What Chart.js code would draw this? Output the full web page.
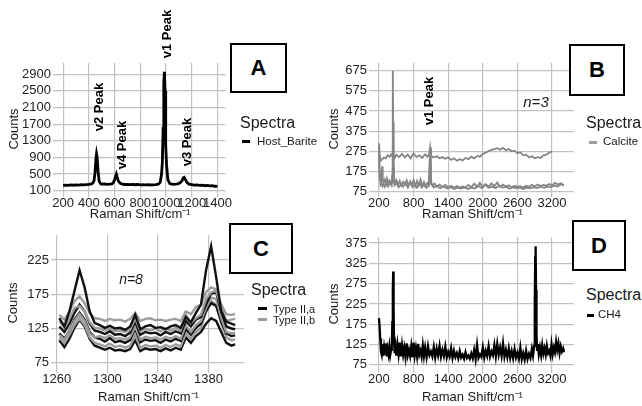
<!DOCTYPE html>
<html>
<head>
<meta charset="utf-8">
<script src="https://cdn.jsdelivr.net/npm/chart.js@4.4.1/dist/chart.umd.min.js"></script>
<style>
  body { margin: 0; background: #fff; }
  #wrap { position: relative; width: 642px; height: 406px; overflow: hidden; background: #fff;
          font-family: "Liberation Sans", Arial, sans-serif; color: #1a1a1a; }
  canvas { position: absolute; }
  .lbl { position: absolute; white-space: nowrap; line-height: 1; }
  .mid { transform: translate(-50%, -50%); }
  .left { transform: translateY(-50%); }
  .rot { transform: translate(-50%, -50%) rotate(-90deg); font-weight: bold; font-size: 13px; color: #000; }
  .leg { font-size: 16px; }
  .item { font-size: 11.5px; }
  .box { position: absolute; border: 2px solid #000; box-sizing: border-box; background: #fff;
         display: flex; align-items: center; justify-content: center; font-weight: bold; font-size: 22px; color: #000; }
  .key { position: absolute; height: 3px; }
</style>
</head>
<body>
<div id="wrap">
  <canvas id="chartA" width="232" height="222" style="left:0;top:0"></canvas>
  <canvas id="chartB" width="254" height="222" style="left:322px;top:0"></canvas>
  <canvas id="chartC" width="246" height="184" style="left:0;top:222px"></canvas>
  <canvas id="chartD" width="254" height="184" style="left:322px;top:222px"></canvas>
</div>
<script>
// ---- panel A: Host_Barite ----
const xA = [200,220,240,260,280,300,320,340,360,380,400,420,430,440,448,455,460,465,472,480,490,500,520,540,560,580,590,600,608,614,620,630,645,660,680,700,720,740,760,780,800,820,840,860,880,900,920,940,955,965,972,978,983,988,993,998,1005,1015,1030,1050,1070,1090,1110,1125,1135,1142,1150,1165,1180,1200,1220,1240,1260,1280,1300,1320,1340,1360,1380,1400];
const yA = [225,232,228,236,230,240,235,242,238,245,250,262,280,330,520,860,985,900,560,330,270,255,262,250,258,262,290,350,450,500,430,330,275,255,248,252,245,250,242,248,240,245,238,242,236,240,245,255,300,480,780,1600,2700,2960,2500,1200,700,360,270,250,255,265,290,340,410,420,370,290,255,245,235,240,228,232,222,226,215,220,205,200];
const xTicksA = [200,400,600,800,1000,1200,1400];
const yTicksA = [100,500,900,1300,1700,2100,2500,2900];

// ---- panel B: Calcite, n=3 ----
const xB1 = [200,215,235,260,290,320,350,380,410,430,440,450,470,500,550,600,650,700,750,800,850,900,950,1000,1040,1070,1086,1100,1130,1200,1250,1300,1350,1400,1450,1500,1550,1600,1650,1700,1750,1800,1850,1900,1950,2000,2050,2100,2150,2200,2250,2300,2350,2400,2450,2500,2550,2600,2650,2700,2750,2800,2850,2900,2950,3000,3050,3100,3150,3200];
const yB1 = [315,250,228,236,245,240,255,248,260,250,560,255,240,258,246,262,244,258,240,265,246,255,242,260,248,262,295,255,245,250,240,246,238,245,232,240,228,236,230,242,236,248,240,252,248,262,268,276,282,286,290,283,292,280,286,275,278,265,270,255,258,245,250,240,246,242,255,258,268,275];
const xB2 = [200,210,225,240,255,265,280,300,320,340,360,380,400,420,432,440,448,460,480,500,530,560,590,620,650,680,710,740,770,800,830,860,890,920,950,980,1010,1040,1070,1086,1100,1130,1160,1200,1250,1300,1350,1400,1450,1500,1550,1600,1650,1700,1750,1800,1850,1900,1950,2000,2050,2100,2150,2200,2250,2300,2350,2400,2450,2500,2550,2600,2650,2700,2750,2800,2850,2900,2950,3000,3050,3100,3150,3200,3250,3300,3350,3400];
const yB2 = [300,180,130,125,200,140,120,135,112,140,118,130,115,125,160,675,200,140,118,132,110,128,105,124,112,130,104,126,108,132,102,128,106,135,100,122,104,118,108,285,120,104,115,100,110,98,108,96,104,94,102,95,100,94,108,96,114,98,118,97,112,100,116,102,120,98,110,100,106,96,104,98,102,95,104,98,108,100,110,102,108,104,112,106,118,110,116,108];
const xB3 = [200,212,228,245,262,280,300,330,360,390,420,436,444,455,470,500,540,580,620,660,700,740,780,820,860,900,940,980,1020,1060,1086,1110,1150,1200,1260,1320,1380,1440,1500,1560,1620,1680,1740,1800,1860,1920,1980,2040,2100,2160,2220,2280,2340,2400,2460,2520,2580,2640,2700,2760,2820,2880,2940,3000,3060,3120,3180,3240,3300,3360,3400];
const yB3 = [270,150,108,118,102,112,98,115,100,120,105,140,420,130,106,118,96,112,100,116,95,120,98,110,94,118,96,108,93,104,250,110,95,104,92,100,90,97,88,95,90,96,88,94,90,104,92,110,94,100,92,105,95,98,90,96,92,94,88,95,91,97,92,99,94,100,96,105,100,112,104];
const xTicksB = [200,800,1400,2000,2600,3200];
const yTicksB = [75,175,275,375,475,575,675];

// ---- panel C: Type II,a (black) / Type II,b (grey), n=8 ----
const xC = [1262,1266,1270,1274,1278,1282,1286,1290,1294,1298,1302,1306,1310,1314,1318,1322,1326,1330,1334,1338,1342,1346,1350,1354,1358,1362,1366,1370,1374,1378,1382,1386,1390,1394,1398,1401];
const typeA1 = [140,128,150,180,210,185,150,133,130,126,129,125,126,123,128,145,124,128,130,126,127,124,128,130,126,142,134,148,160,210,245,200,150,135,132,130];
const typeA2 = [128,120,132,148,160,150,132,122,120,117,121,116,117,114,119,135,116,120,118,119,115,120,117,121,118,136,128,138,142,160,176,178,150,128,125,124];
const typeA3 = [118,110,122,138,148,138,120,112,110,106,111,105,107,104,108,125,105,109,107,108,104,109,106,110,107,124,116,126,132,150,162,158,135,118,114,115];
const typeA4 = [108,98,110,126,138,128,110,100,97,94,97,93,94,92,95,108,92,96,94,95,92,96,93,97,94,112,104,114,120,132,140,136,120,104,100,102];
const typeB1 = [145,138,150,165,172,162,148,140,139,136,139,137,138,135,139,148,136,139,140,137,138,136,138,139,136,150,146,156,160,178,185,182,160,146,145,146];
const typeB2 = [136,126,140,155,158,150,134,126,125,122,125,121,122,120,123,140,121,124,122,125,121,125,122,126,122,145,133,140,145,168,178,180,155,136,138,139];
const typeB3 = [116,108,122,136,146,136,118,112,114,111,115,110,111,109,112,128,109,113,111,112,109,113,110,114,110,130,120,130,136,155,170,168,140,120,118,118];
const typeB4 = [112,104,116,130,140,130,112,104,102,99,103,98,100,97,100,115,97,101,99,100,97,101,98,102,99,118,110,120,126,150,165,160,132,112,108,109];
const xTicksC = [1260,1300,1340,1380];
const yTicksC = [75,125,175,225];

// ---- panel D: CH4 ----
const xD = [200,210,222,235,248,262,276,290,305,320,335,350,365,380,395,410,422,432,440,447,454,462,472,485,500,520,540,560,580,600,620,640,660,680,700,720,740,760,780,800,820,840,860,880,900,920,940,960,980,1000,1025,1050,1075,1100,1125,1150,1175,1200,1225,1250,1275,1300,1325,1350,1375,1400,1425,1450,1475,1500,1525,1550,1575,1600,1625,1650,1675,1700,1725,1750,1775,1800,1825,1850,1875,1900,1925,1950,1975,2000,2025,2050,2075,2100,2125,2150,2175,2200,2225,2250,2275,2300,2325,2350,2375,2400,2425,2450,2475,2500,2525,2550,2575,2600,2625,2650,2675,2700,2725,2750,2775,2800,2825,2850,2870,2890,2900,2908,2915,2922,2930,2940,2955,2970,2990,3010,3030,3050,3070,3090,3110,3130,3150,3170,3190,3210,3230,3250,3270,3290,3310,3330,3350,3370,3390,3400];
const yD = [190,172,140,108,100,126,97,118,103,128,96,114,101,120,99,112,122,180,260,305,210,128,104,120,98,126,101,130,96,124,100,118,95,128,99,112,97,121,94,130,98,117,96,127,100,110,95,123,97,118,94,121,99,108,96,119,93,115,98,122,95,112,97,120,93,107,96,116,92,110,94,104,91,109,93,100,90,106,92,98,90,103,91,112,89,124,92,101,95,118,93,110,97,121,95,108,99,124,96,127,100,118,97,128,95,112,94,116,92,109,91,114,93,105,90,118,89,104,88,110,89,102,92,115,98,122,220,340,367,260,150,112,126,101,118,99,124,103,116,100,122,104,110,98,126,101,118,106,132,112,128,104,121,108,115,106];
const xTicksD = [200,800,1400,2000,2600,3200];
const yTicksD = [75,125,175,225,275,325,375];

const FONT = '"Liberation Sans", Arial, sans-serif';
const GRID = '#c2c2c2';
const BLACK = '#111111';
const GREY = '#858585';
const LIGHTGREY = '#9c9c9c';

function pts(xs, ys) {
    return xs.map(function(x, i) { return {x: x, y: ys[i]}; });
}

function line(xs, ys, color, width) {
    return { data: pts(xs, ys), borderColor: color, borderWidth: width, pointRadius: 0, tension: 0, fill: false };
}

function axis(o) {
    return {
        type: 'linear',
        min: o.min,
        max: o.max,
        border: { display: false },
        grid: { color: GRID, lineWidth: 1.2, tickLength: 2 },
        ticks: {
            autoSkip: false, maxRotation: 0, minRotation: 0,
            padding: o.tickPad, color: '#222',
            font: { family: FONT, size: 13, lineHeight: 1 },
            callback: function(v) { return String(v); }
        },
        title: {
            display: true, text: o.title, color: '#1a1a1a',
            font: { family: FONT, size: 13, lineHeight: 1.2 },
            padding: o.titlePad
        },
        afterBuildTicks: function(s) { s.ticks = o.ticks.map(function(v) { return {value: v}; }); },
        afterFit: function(s) {
            if (o.horizontal) s.height = o.size; else s.width = o.size;
        }
    };
}

function panel(id, datasets, p) {
    return new Chart(document.getElementById(id), {
        type: 'line',
        data: { datasets: datasets },
        options: {
            responsive: false,
            animation: false,
            layout: { padding: p.padding },
            plugins: { legend: { display: false }, tooltip: { enabled: false } },
            scales: {
                x: axis({ min: p.xMin, max: p.xMax, ticks: p.xTicks, size: p.xSize, horizontal: true,
                          title: 'Raman Shift/cm\u207B\u00B9', tickPad: 0, titlePad: { top: 0, bottom: p.xTitlePad } }),
                y: axis({ min: p.yMin, max: p.yMax, ticks: p.yTicks, size: p.ySize, horizontal: false,
                          title: 'Counts', tickPad: 2, titlePad: { top: p.yTitlePad, bottom: 0 } })
            }
        }
    });
}

panel('chartA', [line(xA, yA, '#000', 2.8)], {
    padding: { top: 63, right: 3, left: 0, bottom: 0 },
    xMin: 137, xMax: 1463, xTicks: xTicksA, xSize: 27, xTitlePad: 0,
    yMin: -5, yMax: 3170, yTicks: yTicksA, ySize: 55, yTitlePad: 7
});

panel('chartB', [line(xB2, yB2, GREY, 1.8), line(xB3, yB3, GREY, 1.8), line(xB1, yB1, GREY, 1.8)], {
    padding: { top: 63, right: 2, left: 0, bottom: 0 },
    xMin: 62, xMax: 3580, xTicks: xTicksB, xSize: 27, xTitlePad: 0,
    yMin: 58, yMax: 713, yTicks: yTicksB, ySize: 49, yTitlePad: 5
});

panel('chartC', [
    line(xC, typeA1, BLACK, 2.4), line(xC, typeB2, LIGHTGREY, 2.4),
    line(xC, typeA2, BLACK, 2.4), line(xC, typeB3, LIGHTGREY, 2.4),
    line(xC, typeA3, BLACK, 2.4), line(xC, typeB4, LIGHTGREY, 2.4),
    line(xC, typeA4, BLACK, 2.4), line(xC, typeB1, LIGHTGREY, 2.4)
], {
    padding: { top: 13, right: 2, left: 0, bottom: 0 },
    xMin: 1257, xMax: 1408, xTicks: xTicksC, xSize: 35, xTitlePad: 1,
    yMin: 63, yMax: 261.5, yTicks: yTicksC, ySize: 53, yTitlePad: 6
});

panel('chartD', [line(xD, yD, '#000', 2.3)], {
    padding: { top: 15, right: 2, left: 0, bottom: 0 },
    xMin: 62, xMax: 3580, xTicks: xTicksD, xSize: 35, xTitlePad: 1,
    yMin: 60, yMax: 390, yTicks: yTicksD, ySize: 49, yTitlePad: 5
});

// overlays: peak labels, panel letters, legends
let wrap = document.getElementById('wrap');

function addText(text, x, y, cls, extra) {
    let d = document.createElement('div');
    d.className = 'lbl ' + cls;
    d.textContent = text;
    d.style.left = x + 'px';
    d.style.top = y + 'px';
    if (extra) d.style.cssText += extra;
    wrap.appendChild(d);
}

function addBox(letter, x, y, w, h) {
    let d = document.createElement('div');
    d.className = 'box';
    d.textContent = letter;
    d.style.cssText += 'left:' + x + 'px;top:' + y + 'px;width:' + w + 'px;height:' + h + 'px;';
    wrap.appendChild(d);
}

function addKey(x, y, w, color) {
    let d = document.createElement('div');
    d.className = 'key';
    d.style.cssText += 'left:' + x + 'px;top:' + y + 'px;width:' + w + 'px;background:' + color + ';';
    wrap.appendChild(d);
}

addText('v1 Peak', 166, 34, 'rot');
addText('v2 Peak', 98, 107, 'rot');
addText('v4 Peak', 121, 145, 'rot');
addText('v3 Peak', 186, 142, 'rot');
addText('v1 Peak', 428, 101, 'rot');
addText('n=3', 536, 101, 'mid', 'font-style:italic;font-size:15px;');
addText('n=8', 131, 279, 'mid', 'font-style:italic;font-size:14px;');

addBox('A', 230, 43, 57, 50);
addBox('B', 569, 44, 56, 52);
addBox('C', 229, 223, 64, 51);
addBox('D', 572, 220, 54, 51);

addText('Spectra', 240, 123, 'left leg');
addKey(242, 140, 8, '#000');
addText('Host_Barite', 257, 141.5, 'left item');

addText('Spectra', 586, 123, 'left leg');
addKey(589, 141, 8, LIGHTGREY);
addText('Calcite', 603, 142, 'left item');

addText('Spectra', 251, 290, 'left leg');
addKey(258, 307, 9, '#000');
addKey(258, 318, 9, LIGHTGREY);
addText('Type II,a', 273, 309, 'left item', 'font-size:11px;');
addText('Type II,b', 273, 320, 'left item', 'font-size:11px;');

addText('Spectra', 586, 295, 'left leg');
addKey(587, 314, 7, '#000');
addText('CH4', 598, 315, 'left item');
</script>
</body>
</html>
